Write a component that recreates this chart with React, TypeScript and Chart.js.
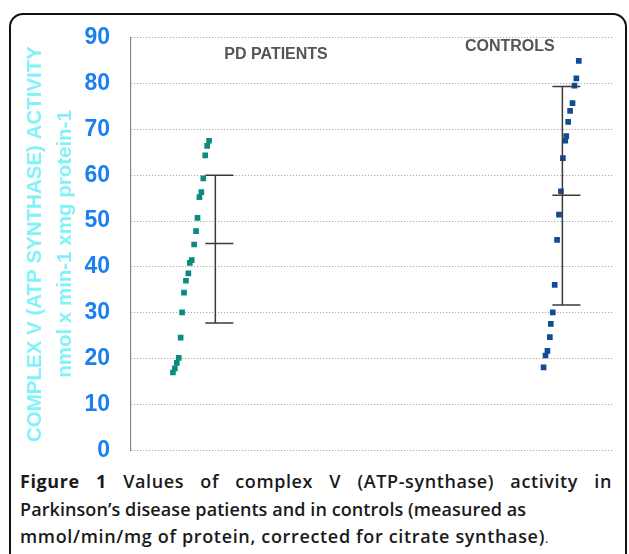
import React, { useEffect, useRef } from "react";
import { Chart, registerables } from "chart.js";

Chart.register(...registerables);

// ---- data ----
const categories = ["PD PATIENTS", "CONTROLS"];
const yTicks = [0, 10, 20, 30, 40, 50, 60, 70, 80, 90];

const pdValues = [67.5, 66.4, 64.3, 59.3, 56.3, 55.2, 50.7, 47.8, 44.9, 41.5, 40.9, 38.6, 37.0, 34.4, 30.1, 24.6, 20.2, 19.1, 17.9, 17.0];
const pdX = [16.2, 15.8, 15.4, 15.0, 14.6, 14.2, 13.8, 13.5, 13.1, 12.6, 12.2, 11.9, 11.4, 11.0, 10.6, 10.3, 9.9, 9.5, 9.1, 8.7];

const ctrlValues = [84.9, 81.1, 79.5, 75.7, 74.0, 71.6, 68.5, 67.5, 63.7, 56.5, 51.4, 45.9, 36.1, 30.1, 27.6, 24.7, 21.7, 20.7, 18.1];
const ctrlX = [92.9, 92.4, 92.0, 91.6, 91.1, 90.7, 90.3, 90.1, 89.6, 89.2, 88.8, 88.4, 87.9, 87.5, 87.1, 86.9, 86.4, 86.0, 85.6];

const errX = [17.5, 89.5];
const errMean = [45.1, 55.6];
const errHigh = [60.0, 79.3];
const errLow = [27.8, 31.7];

const errorBarPlugin = {
  id: "errorBars",
  afterDatasetsDraw(chart: any) {
    const { ctx, scales } = chart;
    const xs = scales.x;
    const ys = scales.y;
    ctx.save();
    ctx.strokeStyle = "#3a3a3a";
    ctx.lineWidth = 1.5;
    ctx.setLineDash([]);
    for (let i = 0; i < errX.length; i++) {
      const x = xs.getPixelForValue(errX[i]);
      const yh = ys.getPixelForValue(errHigh[i]);
      const yl = ys.getPixelForValue(errLow[i]);
      const ym = ys.getPixelForValue(errMean[i]);
      ctx.beginPath();
      ctx.moveTo(x, yh);
      ctx.lineTo(x, yl);
      for (const y of [yh, ym, yl]) {
        ctx.moveTo(x - 10, y);
        ctx.lineTo(x + 18, y);
      }
      ctx.stroke();
    }
    // category labels
    const labelPos = [
      { x: 30.1, y: 86.3 },
      { x: 78.6, y: 88.0 },
    ];
    ctx.fillStyle = "#555555";
    ctx.font = "bold 16px 'Liberation Sans', Arial, sans-serif";
    ctx.textAlign = "center";
    ctx.textBaseline = "middle";
    categories.forEach((c, i) => {
      ctx.fillText(c, xs.getPixelForValue(labelPos[i].x), ys.getPixelForValue(labelPos[i].y));
    });
    ctx.restore();
  },
};

function ChartCanvas() {
  const ref = useRef<HTMLCanvasElement>(null);
  useEffect(() => {
    if (!ref.current) return;
    const chart = new Chart(ref.current, {
      type: "scatter",
      data: {
        datasets: [
          {
            label: categories[0],
            data: pdValues.map((v, i) => ({ x: pdX[i], y: v })),
            backgroundColor: "#0b8a80",
            borderWidth: 0,
            pointStyle: "rect",
            pointRadius: 4,
          },
          {
            label: categories[1],
            data: ctrlValues.map((v, i) => ({ x: ctrlX[i], y: v })),
            backgroundColor: "#124a94",
            borderWidth: 0,
            pointStyle: "rect",
            pointRadius: 4,
          },
        ],
      },
      options: {
        animation: false,
        responsive: false,
        maintainAspectRatio: false,
        layout: { padding: { top: 37.5, bottom: 14.5, right: 16, left: 0 }, autoPadding: false },
        plugins: { legend: { display: false }, tooltip: { enabled: false } },
        scales: {
          x: { type: "linear", min: 0, max: 100, display: false },
          y: {
            min: 0,
            max: 90,
            afterBuildTicks: (axis: any) => {
              axis.ticks = yTicks.map((v) => ({ value: v }));
            },
            afterFit: (axis: any) => {
              axis.width = 131;
              axis.paddingTop = 0;
              axis.paddingBottom = 0;
            },
            ticks: {
              color: "#1a7ff0",
              padding: 21,
              font: { family: "'Liberation Sans', Arial, sans-serif", size: 23, weight: "bold" },
            },
            grid: { color: "#9a9a9a", lineWidth: 1, drawTicks: false },
            border: { display: true, color: "#8a8a8a", width: 1.2, dash: [1, 2] },
            title: {
              display: true,
              text: ["COMPLEX V (ATP SYNTHASE) ACTIVITY", "nmol x min-1 xmg protein-1"],
              color: "#80f2f8",
              font: { family: "'Liberation Sans', Arial, sans-serif", size: 20.5, weight: "bold", lineHeight: "30px" },
              padding: { top: 20, bottom: 4 },
            },
          },
        },
      },
      plugins: [errorBarPlugin],
    } as any);
    return () => chart.destroy();
  }, []);
  return <canvas ref={ref} width={629} height={465} style={{ position: "absolute", left: 0, top: 0, width: 629, height: 465 }} />;
}

export default function App() {
  return (
    <div style={{ position: "absolute", left: 0, top: 0, width: 629, height: 554, overflow: "hidden", background: "#fff" }}>
      <div
        style={{
          position: "absolute",
          left: 9,
          top: 13,
          width: 618,
          height: 620,
          border: "2px solid #111",
          borderRadius: 14,
          boxSizing: "border-box",
        }}
      />
      <ChartCanvas />
      <div
        style={{
          position: "absolute",
          left: 20,
          top: 468,
          width: 592,
          fontFamily: "'Open Sans', 'Noto Sans', sans-serif",
          fontSize: 18,
          lineHeight: "27.5px",
          color: "#1a1a1a",
          fontWeight: 600,
          whiteSpace: "nowrap",
        }}
      >
        <div style={{ textAlign: "justify", textAlignLast: "justify" as any, whiteSpace: "normal", letterSpacing: "0.6px" }}>
          <span style={{ fontWeight: 700 }}>Figure 1</span> Values of complex V (ATP-synthase) activity in
        </div>
        <div style={{ letterSpacing: "0.08px" }}>Parkinson’s disease patients and in controls (measured as</div>
        <div style={{ letterSpacing: "0.66px" }}>
          mmol/min/mg of protein, corrected for citrate synthase)<span style={{ fontWeight: 400, fontSize: 13 }}>.</span>
        </div>
      </div>
    </div>
  );
}
